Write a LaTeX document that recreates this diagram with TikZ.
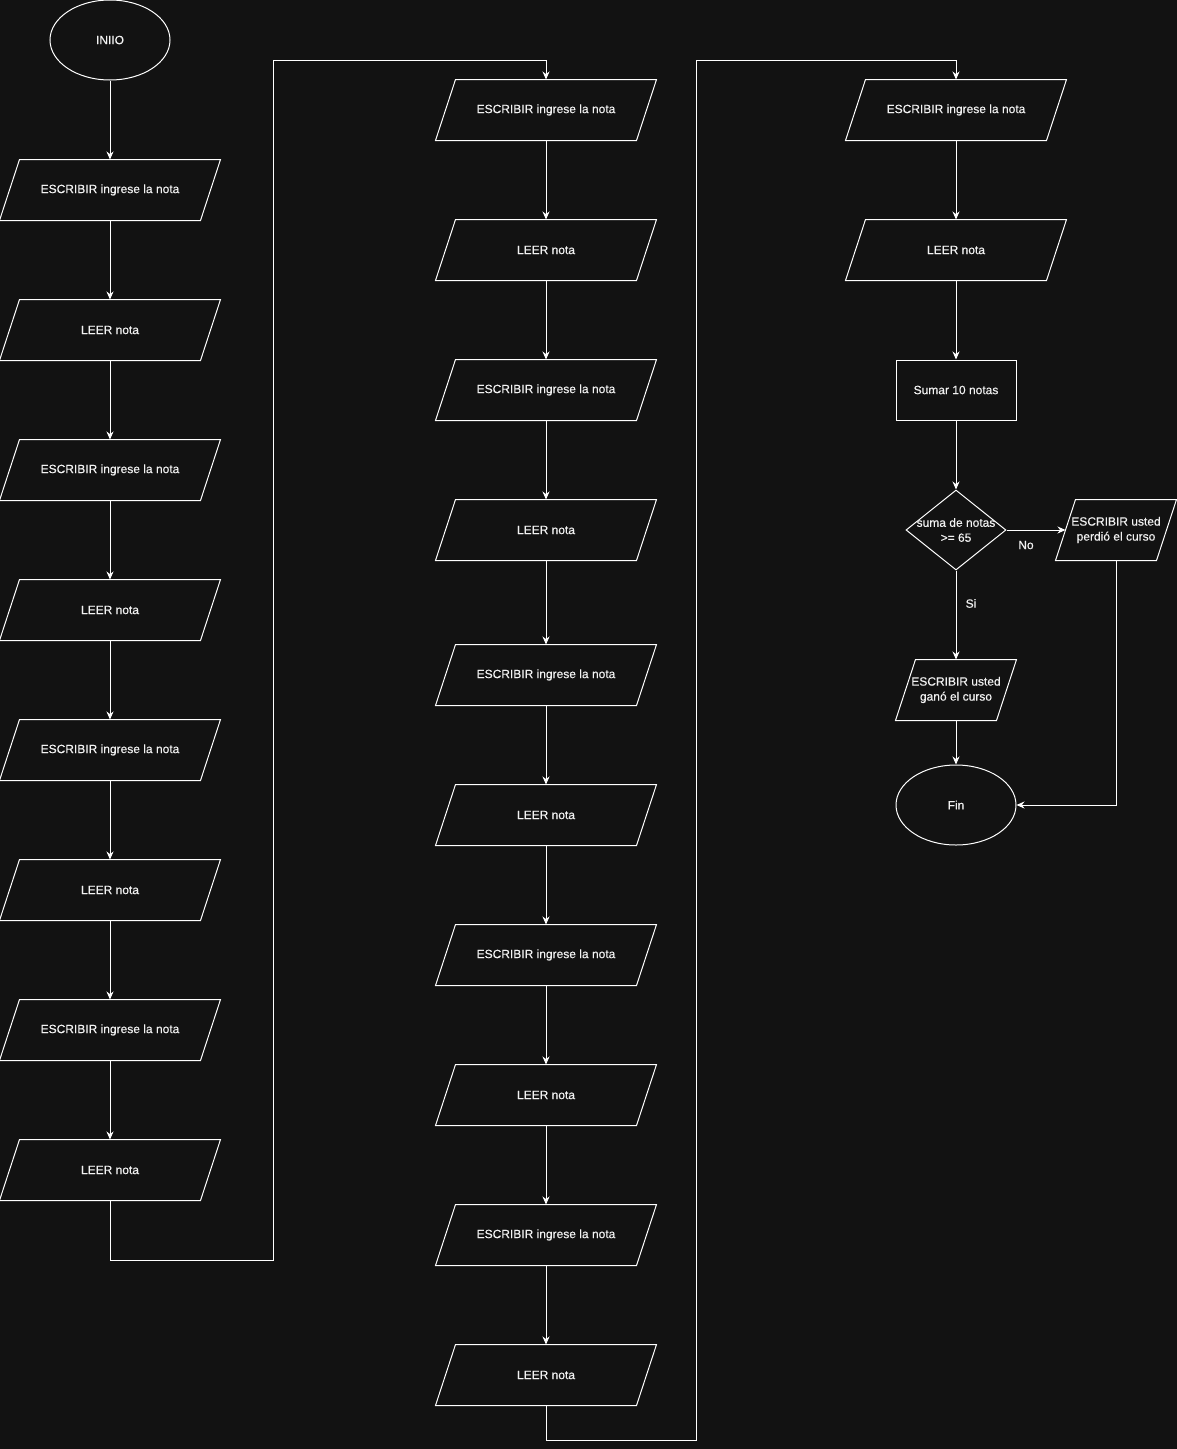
\documentclass[tikz,border=0pt]{standalone}
\usepackage{fontspec}
\setmainfont{Liberation Sans}[FakeBold=0.35]
\usetikzlibrary{positioning,arrows.meta,shapes.geometric,calc}
\definecolor{DarkBg}{HTML}{121212}
\definecolor{SoftWhite}{HTML}{F2F2F2}

\begin{document}
\begin{tikzpicture}[x=1pt, y=-1pt, line width=1pt,
  font=\fontsize{12}{15}\selectfont,
  term/.style = {draw=white, ellipse, minimum width=120, minimum height=80,
                 inner sep=0pt, text=SoftWhite},
  io/.style   = {rectangle, minimum width=#1, minimum height=60, inner sep=0pt,
                 align=center, text=SoftWhite,
                 append after command={\pgfextra{
                   \draw[white] ([xshift=-10pt]\tikzlastnode.south west)
                     -- ([xshift=10pt]\tikzlastnode.north west)
                     -- ([xshift=10pt]\tikzlastnode.north east)
                     -- ([xshift=-10pt]\tikzlastnode.south east) -- cycle;}}},
  io/.default = 200,
  proc/.style = {draw=white, rectangle, minimum width=120, minimum height=60,
                 inner sep=0pt, text=SoftWhite},
  dec/.style  = {draw=white, diamond, minimum width=100, minimum height=80,
                 inner sep=0pt},
  lbl/.style  = {text=SoftWhite, align=center, inner sep=0pt},
  arr/.style  = {-{Stealth[length=8pt, width=7pt]}, white}
]
  \useasboundingbox (0,0) rectangle (1177,1449);
  \fill[DarkBg] (-2,-2) rectangle (1179,1451);

  % first column
  \node[term] (ini) at (110,40) {INIIO};
  \node[io] (a1) at (110,190)  {ESCRIBIR ingrese la nota};
  \node[io] (a2) at (110,330)  {LEER nota};
  \node[io] (a3) at (110,470)  {ESCRIBIR ingrese la nota};
  \node[io] (a4) at (110,610)  {LEER nota};
  \node[io] (a5) at (110,750)  {ESCRIBIR ingrese la nota};
  \node[io] (a6) at (110,890)  {LEER nota};
  \node[io] (a7) at (110,1030) {ESCRIBIR ingrese la nota};
  \node[io] (a8) at (110,1170) {LEER nota};

  % second column
  \node[io] (b1)  at (546,110)  {ESCRIBIR ingrese la nota};
  \node[io] (b2)  at (546,250)  {LEER nota};
  \node[io] (b3)  at (546,390)  {ESCRIBIR ingrese la nota};
  \node[io] (b4)  at (546,530)  {LEER nota};
  \node[io] (b5)  at (546,675)  {ESCRIBIR ingrese la nota};
  \node[io] (b6)  at (546,815)  {LEER nota};
  \node[io] (b7)  at (546,955)  {ESCRIBIR ingrese la nota};
  \node[io] (b8)  at (546,1095) {LEER nota};
  \node[io] (b9)  at (546,1235) {ESCRIBIR ingrese la nota};
  \node[io] (b10) at (546,1375) {LEER nota};

  % third column
  \node[io] (c1) at (956,110) {ESCRIBIR ingrese la nota};
  \node[io] (c2) at (956,250) {LEER nota};
  \node[proc] (sum) at (956,390) {Sumar 10 notas};
  \node[dec, label={[lbl]center:{suma de notas\\>= 65}}] (chk) at (956,530) {};
  \node[io=100] (lose) at (1116,530) {ESCRIBIR usted\\perdió el curso};
  \node[io=100] (win)  at (956,690)  {ESCRIBIR usted\\ganó el curso};
  \node[term] (fin) at (956,805) {Fin};

  \coordinate (k1) at (273,1260);
  \coordinate (k2) at (273,60);
  \coordinate (k3) at (696,1440);
  \coordinate (k4) at (696,60);

  \foreach \from/\to in {ini/a1,a1/a2,a2/a3,a3/a4,a4/a5,a5/a6,a6/a7,a7/a8,
                         b1/b2,b2/b3,b3/b4,b4/b5,b5/b6,b6/b7,b7/b8,b8/b9,b9/b10,
                         c1/c2,c2/sum,sum/chk,win/fin}{
    \draw[arr] (\from.south) -- (\to.north);
  }
  \draw[arr] (a8.south) |- (k1) -- (k2) -| (b1.north);
  \draw[arr] (b10.south) |- (k3) -- (k4) -| (c1.north);

  \draw[arr] (chk.east) -- node[lbl, pos=0.33, yshift=-15pt] {No} (lose.west);
  \draw[arr] (chk.south) -- node[lbl, pos=0.37, xshift=15pt] {Si} (win.north);
  \draw[arr] (lose.south) |- (fin.east);
\end{tikzpicture}
\end{document}
